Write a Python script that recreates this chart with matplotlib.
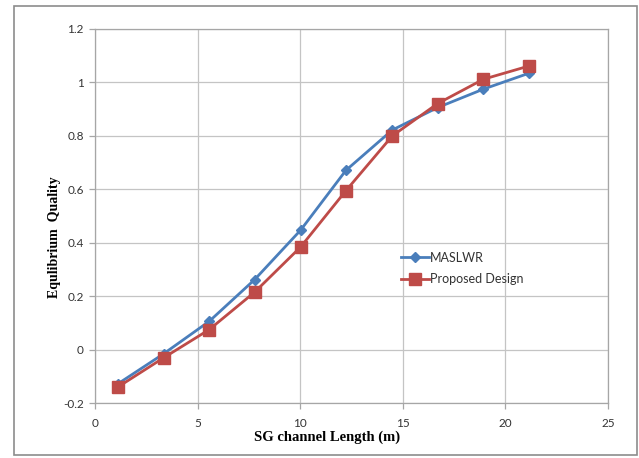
import matplotlib
matplotlib.use("Agg")
import matplotlib.pyplot as plt
from matplotlib.patches import Rectangle

x_len = [1.1, 3.34, 5.57, 7.78, 10.02, 12.23, 14.49, 16.70, 18.93, 21.17]
maslwr = [-0.129, -0.016, 0.106, 0.262, 0.447, 0.671, 0.822, 0.906, 0.975, 1.035]
proposed = [-0.141, -0.031, 0.075, 0.215, 0.384, 0.595, 0.800, 0.921, 1.012, 1.062]
x_ticks = [0, 5, 10, 15, 20, 25]
y_ticks = [-0.2, 0, 0.2, 0.4, 0.6, 0.8, 1, 1.2]
y_tick_labels = ["-0.2", "0", "0.2", "0.4", "0.6", "0.8", "1", "1.2"]

W, H = 639, 458
fig = plt.figure(figsize=(W / 100, H / 100), dpi=100)
fig.patch.set_facecolor("white")

# chart area border
fig.patches.append(Rectangle((14 / W, 1 - 455 / H), (637 - 14) / W, (455 - 6) / H,
                             transform=fig.transFigure, fill=False,
                             edgecolor="#8c8c8c", linewidth=1.2))

left, right, top, bottom = 95, 608, 29, 403
ax = fig.add_axes([left / W, 1 - bottom / H, (right - left) / W, (bottom - top) / H])

blue = "#4A7EBB"
red = "#BE4B48"
ax.plot(x_len, maslwr, color=blue, lw=2, marker="D", ms=5.5, label="MASLWR", zorder=3)
ax.plot(x_len, proposed, color=red, lw=2, marker="s", ms=8, label="Proposed Design", zorder=3)

ax.set_xlim(0, 25)
ax.set_ylim(-0.2, 1.2)
ax.set_xticks(x_ticks)
ax.set_yticks(y_ticks)
ax.set_yticklabels(y_tick_labels)
ax.grid(True, color="#c4c4c4", lw=0.9)
ax.set_axisbelow(True)
for s in ax.spines.values():
    s.set_color("#a6a6a6")
    s.set_linewidth(0.9)
ax.tick_params(axis="both", colors="#a6a6a6", length=4, width=0.9, labelcolor="#333333",
               labelsize=8.5)
for lab in ax.get_xticklabels() + ax.get_yticklabels():
    lab.set_family("Lato")
ax.tick_params(axis="x", pad=7)
ax.tick_params(axis="y", pad=4)

ax.set_xlabel("SG channel Length (m)", fontfamily="Liberation Serif", fontweight="bold",
              fontsize=10.5)
ax.xaxis.set_label_coords(0.452, -0.073)
ax.set_ylabel("Equlibrium  Quality", fontfamily="Liberation Serif", fontweight="bold",
              fontsize=10)
ax.yaxis.set_label_coords(-0.066, 0.444)

leg = ax.legend(loc="upper left", bbox_to_anchor=(0.575, 0.435), frameon=False,
                prop={"family": "Lato", "size": 9}, handlelength=2.2,
                handletextpad=0.1, labelspacing=0.75)
for t in leg.get_texts():
    t.set_color("#333333")

fig.savefig("out.png", dpi=100)
